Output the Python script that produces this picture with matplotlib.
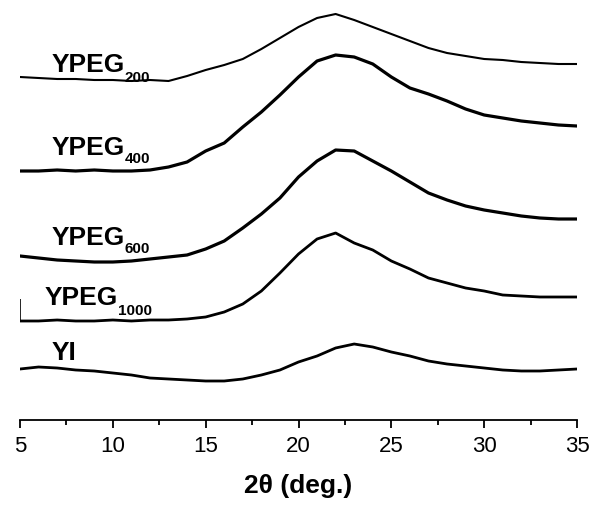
import matplotlib.pyplot as plt
import numpy as np

plt.rcParams["font.family"] = ["Liberation Sans", "DejaVu Sans"]

# 2theta grid (deg) and intensities (arbitrary units, stacked)
two_theta = np.arange(5, 36, 1.0)

ypeg200 = [343, 342, 341, 341, 340, 340, 339, 340, 339, 344, 350, 355, 361, 371, 382, 393,
           402, 406, 400, 393, 386, 379, 372, 367, 364, 361, 360, 358, 357, 356, 356]
ypeg400 = [249, 249, 250, 249, 250, 249, 249, 250, 253, 258, 269, 277, 293, 308, 325, 343,
           359, 365, 363, 356, 343, 332, 326, 319, 311, 305, 302, 299, 297, 295, 294]
ypeg600 = [164, 162, 160, 159, 158, 158, 159, 161, 163, 165, 171, 179, 192, 206, 222, 243,
           259, 270, 269, 259, 249, 238, 227, 220, 214, 210, 207, 204, 202, 201, 201]
ypeg1000 = [99, 99, 100, 99, 99, 100, 99, 100, 100, 101, 103, 108, 116, 129, 147, 166,
            181, 187, 177, 170, 159, 151, 142, 137, 132, 129, 125, 124, 123, 123, 123]
yi = [51, 53, 52, 50, 49, 47, 45, 42, 41, 40, 39, 39, 41, 45, 50, 58,
      64, 72, 76, 73, 68, 64, 59, 56, 54, 52, 50, 49, 49, 50, 51]

ypeg1000_spike = 121  # sharp spike at the very first point of YPEG1000

series = [ypeg200, ypeg400, ypeg600, ypeg1000, yi]
widths = [1.5, 2.3, 2.3, 2.0, 2.0]

# label text, subscript, label anchor (deg, height), subscript anchor
labels = [
    ("YPEG", "200", (6.72, 349), (10.65, 339)),
    ("YPEG", "400", (6.72, 266), (10.65, 258)),
    ("YPEG", "600", (6.72, 176), (10.65, 168)),
    ("YPEG", "1000", (6.35, 116), (10.28, 106)),
    ("YI", "", (6.72, 61), None),
]

fig = plt.figure(figsize=(5.93, 5.06), dpi=100)
ax = fig.add_axes([20 / 593, 85 / 506, 557 / 593, 421 / 506])

for vals, lw in zip(series, widths):
    ax.plot(two_theta, vals, color="black", lw=lw, solid_joinstyle="round")
ax.vlines(two_theta[0], ypeg1000[0], ypeg1000_spike, color="black", lw=1.2)

for main, sub, pos, subpos in labels:
    ax.text(pos[0], pos[1], main, fontsize=19, fontweight="bold", va="baseline", ha="left")
    if sub:
        ax.text(subpos[0], subpos[1], sub, fontsize=11, fontweight="bold", va="baseline", ha="left")

ax.set_xlim(5, 35)
ax.set_ylim(0, 421)
for side in ["top", "right", "left"]:
    ax.spines[side].set_visible(False)
ax.spines["bottom"].set_linewidth(1.3)
ax.set_yticks([])
ax.set_xticks(np.arange(5, 36, 5))
ax.set_xticks(np.arange(7.5, 35, 5), minor=True)
ax.tick_params(axis="x", which="major", direction="out", length=6, width=1.3, labelsize=16, pad=5)
ax.tick_params(axis="x", which="minor", direction="out", length=3.5, width=1.3)
ax.set_xlabel("2θ (deg.)", fontsize=19, fontweight="bold", labelpad=12)
ax.patch.set_alpha(0)

fig.savefig("out.png", dpi=100)
